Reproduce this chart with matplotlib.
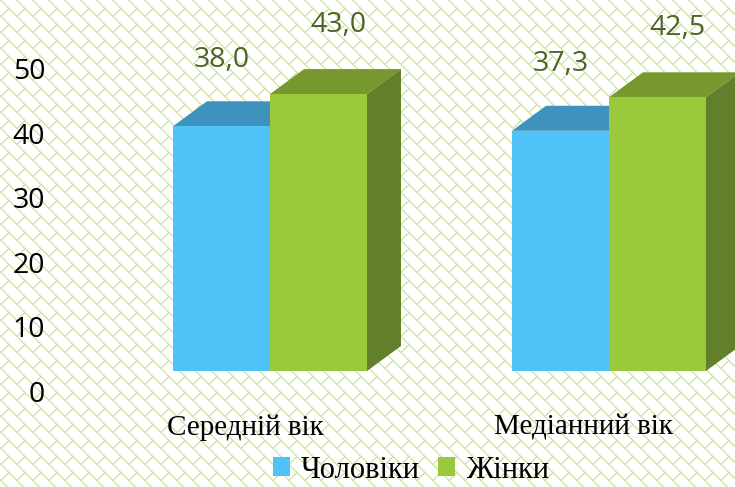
import numpy as np
import matplotlib
matplotlib.use("Agg")
import matplotlib.pyplot as plt
from matplotlib.patches import Polygon, Patch
from matplotlib.transforms import ScaledTranslation

# ---- data ----
categories = ["Середній вік", "Медіанний вік"]
series_names = ["Чоловіки", "Жінки"]
men = [38.0, 37.3]
women = [43.0, 42.5]
value_labels_men = ["38,0", "37,3"]
value_labels_women = ["43,0", "42,5"]
yticks = [0, 10, 20, 30, 40, 50]

# ---- style ----
W, H, DPI = 735, 487, 100
front_cols = ["#4FC3F7", "#9ACA3C"]
top_cols = ["#3D93BE", "#76982F"]
side_cols = ["#3A7FA6", "#62802A"]
label_col = "#4F6228"
pat_col = np.array([210, 230, 172]) / 255.0

fig = plt.figure(figsize=(W / DPI, H / DPI), dpi=DPI)
fig.patch.set_facecolor("white")

# background brick-like diagonal pattern
yy, xx = np.mgrid[0:H, 0:W]
main = ((xx - yy) % 16) < 2
conn = (((xx + yy) % 16) < 2) & ((yy % 16) >= 8)
mask = main | conn
img = np.ones((H, W, 3))
img[mask] = pat_col
fig.figimage(img, xo=0, yo=0, zorder=-5)

# axes geometry (pixels)
ax_left, ax_bottom = 55, 116
ax = fig.add_axes([ax_left / W, ax_bottom / H, (W - ax_left) / W, (H - ax_bottom) / H])
ax.set_zorder(2)
ax.patch.set_alpha(0)
px_per_group = 339.0
px_per_unit = 6.44
g0 = 270.0
ax.set_xlim((ax_left - g0) / px_per_group, (W - g0) / px_per_group)
ax.set_ylim(0, (H - ax_bottom) / px_per_unit)
for s in ax.spines.values():
    s.set_visible(False)

bw = 97 / px_per_group
ddx = 34 / px_per_group
ddy = 25 / px_per_unit

x = np.arange(len(categories))
for i in range(len(categories)):
    for j, vals in enumerate([men, women]):
        x0 = x[i] - bw + j * bw
        h = vals[i]
        ax.bar(x0, h, width=bw, align="edge", color=front_cols[j], zorder=3 + j * 3, linewidth=0)
        top = Polygon([(x0, h), (x0 + bw, h), (x0 + bw + ddx, h + ddy), (x0 + ddx, h + ddy)],
                      closed=True, facecolor=top_cols[j], edgecolor="none", zorder=2 + j * 3)
        side = Polygon([(x0 + bw, 0), (x0 + bw + ddx, ddy), (x0 + bw + ddx, h + ddy), (x0 + bw, h)],
                       closed=True, facecolor=side_cols[j], edgecolor="none", zorder=2 + j * 3)
        ax.add_patch(top)
        ax.add_patch(side)

sans = ["Open Sans", "DejaVu Sans"]
vfont = dict(family=sans, size=20.5, color=label_col)
for i in range(len(categories)):
    ax.annotate(value_labels_men[i], (x[i] - bw / 2, men[i]), xytext=(0, 48),
                textcoords="offset points", ha="center", va="center", **vfont, zorder=10,
                annotation_clip=False)
    ax.annotate(value_labels_women[i], (x[i] + bw / 2, women[i]), xytext=(14.4, 50),
                textcoords="offset points", ha="center", va="center", **vfont, zorder=10,
                annotation_clip=False)

# y ticks (labels shifted 20 px down like the 3D back wall)
ax.set_yticks(yticks)
ax.set_yticklabels([str(t) for t in yticks], fontfamily=sans, fontsize=20.5)
ax.tick_params(axis="y", length=0, pad=7)
off_y = ScaledTranslation(0, -20 / DPI, fig.dpi_scale_trans)
for lab in ax.get_yticklabels():
    lab.set_transform(lab.get_transform() + off_y)

# x category labels
ax.set_xticks(x)
ax.set_xticklabels(categories, fontfamily=["Liberation Serif", "DejaVu Serif"], fontsize=21)
ax.tick_params(axis="x", length=0, pad=31)
off_x = ScaledTranslation(-25 / DPI, 0, fig.dpi_scale_trans)
for lab in ax.get_xticklabels():
    lab.set_transform(lab.get_transform() + off_x)

handles = [Patch(facecolor=front_cols[0], edgecolor="none"), Patch(facecolor=front_cols[1], edgecolor="none")]
fig.legend(handles, series_names, loc="center", bbox_to_anchor=(411 / W, 1 - 470 / H),
           ncol=2, frameon=False, prop=dict(family=["Liberation Serif", "DejaVu Serif"], size=22),
           handlelength=0.55, handleheight=0.55, handletextpad=0.35, columnspacing=0.6,
           borderpad=0, borderaxespad=0)

fig.savefig("out.png", dpi=DPI)
